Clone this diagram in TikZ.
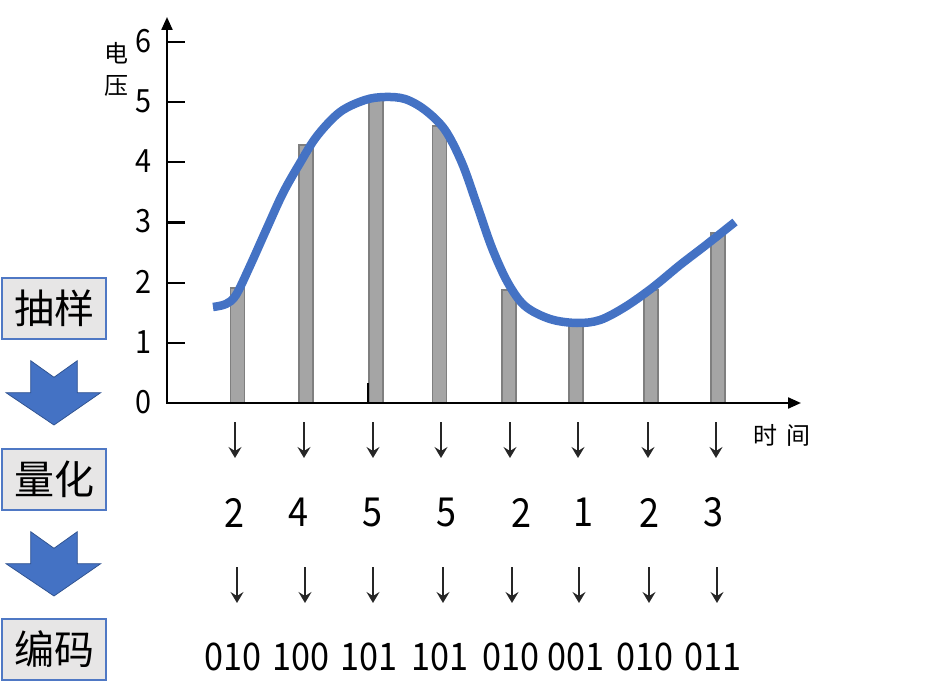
\documentclass[tikz,border=0pt]{standalone}
\usepackage{fontspec}
\newfontfamily\cjk{Noto Sans CJK SC}
\newfontfamily\numfont[FakeStretch=0.9]{Noto Sans CJK SC}
\usetikzlibrary{arrows.meta}
\definecolor{curveblue}{HTML}{4472C4}
\definecolor{boxblue}{HTML}{4F78C4}
\definecolor{boxgray}{HTML}{E7E6E6}
\definecolor{barfill}{HTML}{A5A5A5}
\definecolor{barline}{HTML}{7F7F7F}
\definecolor{chevfill}{HTML}{4472C4}
\definecolor{chevline}{HTML}{2F528F}
\definecolor{arrowgray}{HTML}{262626}
\tikzset{
  stepbox/.style={draw=boxblue, fill=boxgray, line width=2pt, minimum width=104pt, minimum height=61pt, inner sep=0pt, font=\cjk\fontsize{40}{40}\selectfont},
  chevron/.style={fill=chevfill, draw=chevline, line width=0.75pt, line join=miter},
  bar/.style={draw=barline, fill=barfill, line width=1.5pt},
  axis/.style={line width=2.2pt, black, line join=miter},
  ticklabel/.style={inner sep=0pt, font=\numfont\fontsize{32}{32}\selectfont},
  qnum/.style={inner sep=0pt, font=\numfont\fontsize{40}{40}\selectfont},
  bnum/.style={inner sep=0pt, font=\numfont\fontsize{38}{38}\selectfont},
  axislabel/.style={inner sep=0pt, align=center, font=\cjk\fontsize{24}{32}\selectfont},
  smallarrow/.style={line width=1.5pt, arrowgray, -{Stealth[length=11pt,width=13pt,inset=4pt]}},
  curve/.style={line width=8.5pt, curveblue}
}
\begin{document}
\begin{tikzpicture}[x=1pt,y=-1pt]
\useasboundingbox (0,0) rectangle (927,687);
% left process column
\node[stepbox] (s1) at (54,308.5) {抽样};
\node[stepbox] (s2) at (54,479) {量化};
\node[stepbox] (s3) at (54,649.5) {编码};
\foreach \dy in {0,171}{
  \draw[chevron, shift={(0,\dy)}] (30.7,360.7) -- (54,377.3) -- (77.3,360.7) -- (77.3,392.7) -- (100.7,392.7) -- (54,425) -- (6,392.7) -- (30.7,392.7) -- cycle;
}
% bars
\foreach \l/\t in {230.7/288, 299/145, 369/100, 432.5/126, 502/290, 569/325, 644/290, 711/233}{
  \draw[bar] (\l,403) rectangle (\l+14,\t);
}
\draw[line width=1.8pt, black] (368,383) -- (368,403);
% axes
\coordinate (origin) at (167,403);
\coordinate (ytip) at (167,17);
\coordinate (xtip) at (801,403);
\draw[axis, {Triangle[length=13pt,width=11pt]}-{Triangle[length=13pt,width=11pt]}] (ytip) -- (origin) -- (xtip);
\foreach \v in {1,...,6}{
  \draw[axis] (167,403-60.17*\v) -- ++(18,0);
}
\foreach \v in {0,...,6}{
  \node[ticklabel] (t\v) at (143,402-60.17*\v) {\v};
}
\node[axislabel] (ylab) at (116,69) {电\\压};
\node[axislabel] (xlab) at (782,435) {时\hspace{9pt}间};
% signal curve
\draw[curve] plot[smooth, tension=0.55] coordinates {(213,307) (226,304) (236,295) (250,266) (267,228) (283,193) (300,163) (317,136) (340,112) (365,100) (385,97) (405,99) (425,110) (445,130) (462,163) (477,205) (492,248) (508,283) (525,306) (550,319) (577,323) (600,320) (625,307) (652,288) (680,265) (706,245) (735,222)};
% sampling -> quantized values
\foreach \x [count=\i] in {235,304,373,441,510,578,648,716}{
  \coordinate (ua\i) at (\x,422);
  \coordinate (ub\i) at (\x,458);
  \draw[smallarrow] (ua\i) -- (ub\i);
}
\foreach \x/\d [count=\i] in {234/2, 298/4, 372/5, 446/5, 521/2, 583/1, 649/2, 713/3}{
  \node[qnum] (q\i) at (\x,512.5) {\d};
}
\foreach \x [count=\i] in {237,305,373,443,512,579,649,717}{
  \coordinate (la\i) at (\x,567);
  \coordinate (lb\i) at (\x,603);
  \draw[smallarrow] (la\i) -- (lb\i);
}
\foreach \x/\b [count=\i] in {233/010, 301/100, 369/101, 440/101, 511/010, 576/001, 645/010, 713/011}{
  \node[bnum] (b\i) at (\x,656.5) {\b};
}
\end{tikzpicture}
\end{document}
